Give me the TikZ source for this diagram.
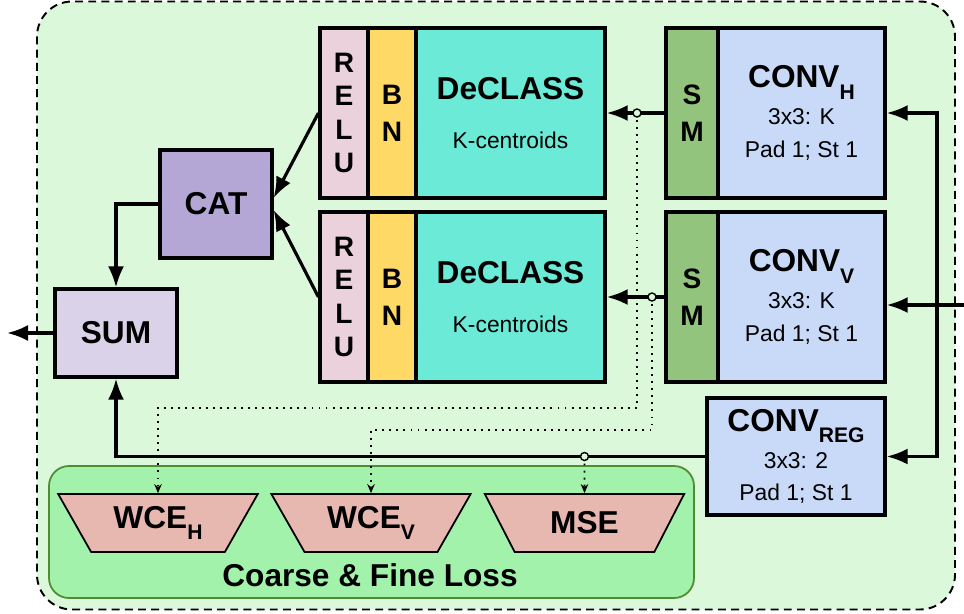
\documentclass[tikz,border=0pt]{standalone}
\usepackage{fontspec}
\setmainfont{Liberation Sans}
\usepackage{xcolor}
\usepackage{tikz}
\usetikzlibrary{shapes.geometric, arrows.meta, calc}

\definecolor{fond}{RGB}{220,248,218}
\definecolor{vertsm}{RGB}{147,196,125}
\definecolor{bleuconv}{RGB}{201,218,248}
\definecolor{roserelu}{RGB}{234,209,220}
\definecolor{jaunebn}{RGB}{255,217,102}
\definecolor{turquoise}{RGB}{108,234,216}
\definecolor{violetcat}{RGB}{180,167,214}
\definecolor{lilassum}{RGB}{217,210,233}
\definecolor{vertperte}{RGB}{163,242,171}
\definecolor{vertfonce}{RGB}{80,140,50}
\definecolor{saumon}{RGB}{230,184,175}

\newcommand{\indice}[1]{\raisebox{-6.5pt}{\fontsize{12}{12}\selectfont #1}}

\tikzstyle{bloc} = [rectangle, draw=black, line width=1.8pt, inner sep=0pt, align=center, minimum height=3.4cm]
\tikzstyle{lettres} = [bloc, minimum width=0.96cm, font=\bfseries\fontsize{16}{21}\selectfont]
\tikzstyle{conv} = [bloc, fill=bleuconv, minimum width=3.34cm, font=\fontsize{13}{18.5}\selectfont]
\tikzstyle{declass} = [bloc, fill=turquoise, minimum width=3.78cm, font=\fontsize{13}{28}\selectfont]
\tikzstyle{titre} = [font=\bfseries\fontsize{18}{18}\selectfont]
\tikzstyle{perte} = [trapezium, draw=black, line width=1pt, fill=saumon, trapezium stretches=true, trapezium angle=56.8, shape border rotate=180, minimum width=4cm, minimum height=1.16cm, inner sep=0pt, font=\bfseries\fontsize{18}{18}\selectfont]
\tikzstyle{fleche} = [line width=1.8pt, -{Latex[length=4.2mm, width=3.2mm]}]
\tikzstyle{pointille} = [line width=1.1pt, dash pattern=on 1.1pt off 2.9pt, -{Stealth[length=1.8mm, width=1.5mm]}]
\tikzstyle{prise} = [line width=0.8pt, draw=black, fill=fond]

\begin{document}
\begin{tikzpicture}
    \useasboundingbox (0,0) rectangle (19.28,-12.26);
    \draw[line width=1.1pt, dash pattern=on 4.5pt off 3pt, fill=fond, rounded corners=0.7cm] (0.74,-0.03) rectangle (19.10,-12.19);

    % convolutions
    \node (smH) [lettres, fill=vertsm, minimum width=1.04cm] at (13.84,-2.26) {S\\M};
    \node (convH) [conv] at (16.03,-2.26) {{\bfseries\fontsize{18}{18.5}\selectfont CONV\indice{H}}\\[2.5pt]3x3: K\\Pad 1; St 1};
    \node (smV) [lettres, fill=vertsm, minimum width=1.04cm] at (13.84,-5.94) {S\\M};
    \node (convV) [conv] at (16.03,-5.94) {{\bfseries\fontsize{18}{18.5}\selectfont CONV\indice{V}}\\[2.5pt]3x3: K\\Pad 1; St 1};
    \node (convReg) [conv, minimum width=3.56cm, minimum height=2.34cm] at (15.92,-9.13) {{\bfseries\fontsize{18}{18.5}\selectfont CONV\indice{REG}}\\[2.5pt]3x3: 2\\Pad 1; St 1};

    % DeCLASS branches
    \node (reluH) [lettres, fill=roserelu, font=\bfseries\fontsize{16}{19}\selectfont] at (6.88,-2.26) {R\\E\\L\\U};
    \node (bnH) [lettres, fill=jaunebn] at (7.84,-2.26) {B\\N};
    \node (declH) [declass] at (10.21,-2.26) {{\bfseries\fontsize{18}{28}\selectfont DeCLASS}\\K-centroids};
    \node (reluV) [lettres, fill=roserelu, font=\bfseries\fontsize{16}{19}\selectfont] at (6.88,-5.94) {R\\E\\L\\U};
    \node (bnV) [lettres, fill=jaunebn] at (7.84,-5.94) {B\\N};
    \node (declV) [declass] at (10.21,-5.94) {{\bfseries\fontsize{18}{28}\selectfont DeCLASS}\\K-centroids};

    \node (cat) [bloc, titre, fill=violetcat, minimum width=2.24cm, minimum height=2.16cm] at (4.32,-4.08) {CAT};
    \node (sum) [bloc, titre, fill=lilassum, minimum width=2.44cm, minimum height=1.76cm] at (2.32,-6.66) {SUM};

    % losses
    \node (loss) [rectangle, rounded corners=0.4cm, draw=vertfonce, line width=1pt, fill=vertperte, minimum width=12.9cm, minimum height=2.64cm] at (7.43,-10.64) {};
    \node (wceH) [perte] at (3.16,-10.46) {WCE\indice{H}};
    \node (wceV) [perte] at (7.42,-10.46) {WCE\indice{V}};
    \node (mse) [perte] at (11.69,-10.46) {MSE};
    \node (lossLabel) [titre] at (7.40,-11.50) {Coarse \& Fine Loss};

    \coordinate (in) at (19.28,-6.10);
    \coordinate (bus) at (18.74,-6.10);
    \coordinate (out) at (0.14,-6.66);
    \coordinate (tapH) at (12.74,-2.26);
    \coordinate (tapV) at (13.04,-5.94);
    \coordinate (tapReg) at (mse.center |- convReg.west);
    \coordinate (bendH) at (12.74,-8.16);
    \coordinate (bendV) at (13.04,-8.60);

    \draw[fleche] (in) -- (in -| convV.east);
    \draw[fleche] (bus) |- (convH.east);
    \draw[fleche] (bus) |- (convReg.east);

    \draw[fleche] (smH.west) -- (declH.east);
    \draw[fleche] (smV.west) -- (declV.east);

    \draw[fleche] (reluH.west) -- ($(cat.east)+(0,0.12)$);
    \draw[fleche] (reluV.west) -- ($(cat.east)+(0,-0.12)$);
    \draw[fleche] (cat.west) -| (sum.north);
    \draw[fleche] (convReg.west) -| (sum.south);
    \draw[fleche] (sum.west) -- (out);

    % dotted taps to the losses
    \draw[pointille] (tapH) -- (bendH) -| (wceH.north);
    \draw[pointille] (tapV) -- (bendV) -| (wceV.north);
    \draw[pointille] (tapReg) -- (mse.north);
    \draw[prise] (tapH) circle (0.08);
    \draw[prise] (tapV) circle (0.08);
    \draw[prise] (tapReg) circle (0.08);
\end{tikzpicture}
\end{document}
